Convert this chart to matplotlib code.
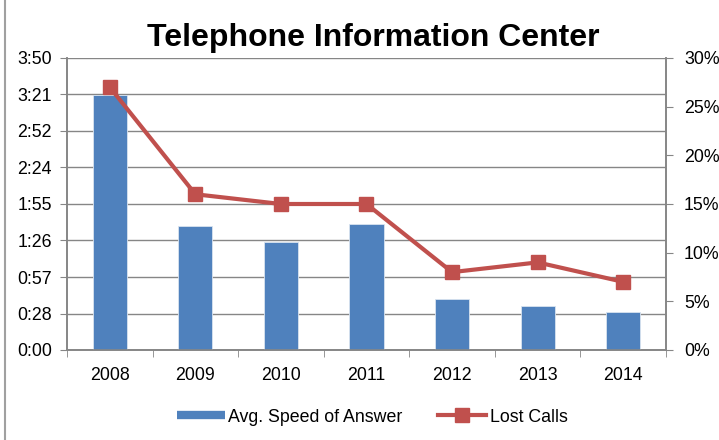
import matplotlib
matplotlib.use("Agg")
import matplotlib.pyplot as plt
import numpy as np
from matplotlib.lines import Line2D

plt.rcParams["font.family"] = ["Liberation Sans", "DejaVu Sans"]

YEARS = ["2008", "2009", "2010", "2011", "2012", "2013", "2014"]
SPEED_SEC = [201, 98, 85, 99, 40, 35, 30]      # avg. speed of answer, seconds
LOST_PCT = [27, 16, 15, 15, 8, 9, 7]           # lost calls, percent
TIME_TICKS = ["0:00", "0:28", "0:57", "1:26", "1:55", "2:24", "2:52", "3:21", "3:50"]
TIME_MAX = 230
PCT_TICKS = [0, 5, 10, 15, 20, 25, 30]

BLUE = "#4F81BD"
RED = "#C0504D"
GRID = "#868686"
FS = 12.8

fig = plt.figure(figsize=(7.19, 4.40), dpi=100)
ax = fig.add_axes([67 / 719, 1 - 350 / 440, (666 - 67) / 719, (350 - 58) / 440])
ax2 = ax.twinx()

x = np.arange(len(YEARS))
ax.bar(x, SPEED_SEC, 0.4, color=BLUE, edgecolor="#d9e3f0", linewidth=0.6, zorder=3)
ax2.plot(x, LOST_PCT, color=RED, lw=3, marker="s", ms=10, zorder=4)

ax.set_xlim(-0.5, len(YEARS) - 0.5)
ax.set_ylim(0, TIME_MAX)
yt = np.linspace(0, TIME_MAX, len(TIME_TICKS))
ax.set_yticks(yt)
ax.set_yticklabels(TIME_TICKS)
ax.grid(axis="y", color=GRID, lw=1, zorder=0)
ax.set_axisbelow(True)

ax.set_xticks(x)
ax.set_xticklabels(YEARS)
ax.set_xticks(np.arange(len(YEARS) + 1) - 0.5, minor=True)
ax.tick_params(axis="x", which="major", length=0, pad=12, labelsize=FS)
ax.tick_params(axis="x", which="minor", length=5, color=GRID, direction="out")
ax.tick_params(axis="y", length=5, color=GRID, labelsize=FS, pad=6)

ax2.set_ylim(0, 30)
ax2.set_yticks(PCT_TICKS)
ax2.set_yticklabels([f"{p}%" for p in PCT_TICKS])
ax2.tick_params(axis="y", length=5, color=GRID, labelsize=FS, pad=8)

for a in (ax, ax2):
    for s in a.spines.values():
        s.set_color(GRID)
        s.set_linewidth(1.2)
    a.spines["top"].set_visible(False)

fig.text(373 / 719, 1 - 38 / 440, "Telephone Information Center",
         ha="center", va="center", fontsize=23, fontweight="bold")

handles = [Line2D([], [], color=BLUE, lw=6, solid_capstyle="butt"),
           Line2D([], [], color=RED, lw=3, marker="s", ms=10)]
fig.legend(handles, ["Avg. Speed of Answer", "Lost Calls"], loc="center",
           bbox_to_anchor=(372 / 719, 1 - 417 / 440), ncol=2, frameon=False,
           fontsize=FS, handlelength=2.7, handletextpad=0.2, columnspacing=2.0)

# left edge of the chart frame
fig.add_artist(Line2D([4.5 / 719, 4.5 / 719], [0, 1], transform=fig.transFigure,
                      color="#a0a0a0", lw=1.5))

fig.savefig("out.png", dpi=100)
